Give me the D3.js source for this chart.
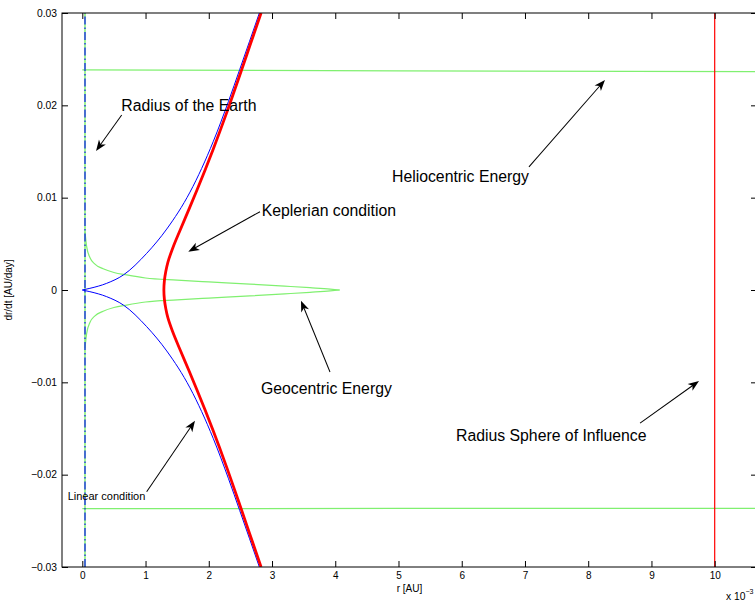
<!DOCTYPE html>
<html>
<head>
<meta charset="utf-8">
<script src="https://cdn.jsdelivr.net/npm/d3@7"></script>
<style>
  html, body { margin: 0; padding: 0; background: #fff; }
  svg { display: block; font-family: "Liberation Sans", Arial, Helvetica, sans-serif; }
</style>
</head>
<body>
<svg id="chart" width="755" height="605"></svg>
<script>
// ---------------- data (r in 1e-3 AU, dr/dt in AU/day) ----------------
const xTicks = [0, 1, 2, 3, 4, 5, 6, 7, 8, 9, 10];
const yTicks = [-0.03, -0.02, -0.01, 0, 0.01, 0.02, 0.03];
const yTickLabels = ["\u22120.03", "\u22120.02", "\u22120.01", "0", "0.01", "0.02", "0.03"];

// Linear condition (blue), symmetric branches ±
const linearR = [0, 0.12, 0.385, 0.65, 1.018, 1.335, 1.703, 2.072, 2.31, 2.49, 2.80];
const linearV = [0, 0.00018, 0.00072, 0.00163, 0.00397, 0.0066, 0.0106, 0.0161, 0.0204, 0.0239, 0.030];

// Keplerian condition (red), symmetric branches ±
const keplerV = [0, 0.001, 0.002, 0.003, 0.0045, 0.0065, 0.0087, 0.0108, 0.013, 0.0152, 0.0191, 0.0228, 0.0265, 0.030];
const keplerR = [1.29, 1.298, 1.320, 1.353, 1.428, 1.548, 1.684, 1.812, 1.942, 2.067, 2.278, 2.467, 2.652, 2.827];

// Geocentric energy (green), symmetric branches ±
const geoR = [0.0426, 0.069, 0.122, 0.20, 0.33, 0.50, 0.70, 1.0, 1.5, 2.0, 2.65, 3.2, 3.6, 3.92, 4.07];
const geoV = [0.0063, 0.0047, 0.0035, 0.0028, 0.0023, 0.0019, 0.00163, 0.0013, 0.00107, 0.00088, 0.00064, 0.00042, 0.00025, 0.0001, 0];

// Heliocentric energy (green), upper and lower
const helioR = [0, 5, 10.7];
const helioUpperV = [0.02383, 0.02374, 0.02365];
const helioLowerV = [-0.02368, -0.02366, -0.02364];

// Radius of the Earth and radius of sphere of influence
const earthRadius = 0.0426;
const soiRadius = 10;

// annotations (data coordinates)
const annotLabels = ["Radius of the Earth", "Keplerian condition", "Heliocentric Energy", "Geocentric Energy", "Radius Sphere of Influence", "Linear condition"];
const annotTextR = [0.617, 2.837, 4.897, 2.826, 5.909, -0.231];
const annotTextV = [0.01939, 0.00802, 0.01174, -0.01126, -0.01631, -0.02274];
const annotSize = [15.8, 15.8, 15.8, 15.8, 15.8, 11];
const arrowTailR = [0.623, 2.81, 7.063, 3.917, 8.82, 1.018];
const arrowTailV = [0.01896, 0.00848, 0.01333, -0.00888, -0.01441, -0.02185];
const arrowHeadR = [0.217, 1.676, 8.265, 3.458, 9.752, 1.782];
const arrowHeadV = [0.01506, 0.00415, 0.02275, -0.00116, -0.00986, -0.01416];

// ---------------- layout ----------------
const L = 62, R = 757, T = 13, B = 567;
const svg = d3.select("#chart");

const x = d3.scaleLinear().domain([-0.321, 10.669]).range([L, R]);
const y = d3.scaleLinear().domain([-0.03, 0.03]).range([B, T]);

const defs = svg.append("defs");
defs.append("clipPath").attr("id", "clip")
  .append("rect").attr("x", L).attr("y", T).attr("width", R - L).attr("height", B - T);

const plot = svg.append("g").attr("clip-path", "url(#clip)");
const GREEN = "#80f070";

const lineX = d3.line().x(d => x(d[0])).y(d => y(d[1])).curve(d3.curveMonotoneX);
const lineY = d3.line().x(d => x(d[0])).y(d => y(d[1])).curve(d3.curveMonotoneY);
const straight = d3.line().x(d => x(d[0])).y(d => y(d[1]));

// Heliocentric energy
plot.append("path").attr("d", lineX(helioR.map((r, i) => [r, helioUpperV[i]])))
  .attr("fill", "none").attr("stroke", GREEN).attr("stroke-width", 1.2);
plot.append("path").attr("d", lineX(helioR.map((r, i) => [r, helioLowerV[i]])))
  .attr("fill", "none").attr("stroke", GREEN).attr("stroke-width", 1.2);

// Geocentric energy (two branches)
[1, -1].forEach(s => {
  plot.append("path").attr("d", lineX(geoR.map((r, i) => [r, s * geoV[i]])))
    .attr("fill", "none").attr("stroke", GREEN).attr("stroke-width", 1.2);
});

// Radius of Earth green line
plot.append("path").attr("d", straight([[earthRadius, -0.03], [earthRadius, 0.03]]))
  .attr("fill", "none").attr("stroke", GREEN).attr("stroke-width", 1.5);

// Linear condition (blue)
[1, -1].forEach(s => {
  plot.append("path").attr("d", lineX(linearR.map((r, i) => [r, s * linearV[i]])))
    .attr("fill", "none").attr("stroke", "#0000ff").attr("stroke-width", 1);
});

// Blue dash-dot vertical
plot.append("path").attr("d", straight([[earthRadius, -0.03], [earthRadius, 0.03]]))
  .attr("fill", "none").attr("stroke", "#0000ff").attr("stroke-width", 1.1)
  .attr("stroke-dasharray", "8,3,1.5,3");

// Keplerian condition (red), ordered by v
const kepPts = keplerR.map((r, i) => [r, -keplerV[i]]).reverse()
  .concat(keplerR.slice(1).map((r, i) => [r, keplerV[i + 1]]));
plot.append("path").attr("d", lineY(kepPts))
  .attr("fill", "none").attr("stroke", "#ff0000").attr("stroke-width", 2.8);

// Sphere of influence
plot.append("path").attr("d", straight([[soiRadius, -0.03], [soiRadius, 0.03]]))
  .attr("fill", "none").attr("stroke", "#ff0000").attr("stroke-width", 1.2);

// ---------------- annotations ----------------
const ann = svg.append("g");
annotLabels.forEach((lab, i) => {
  ann.append("text").attr("x", x(annotTextR[i])).attr("y", y(annotTextV[i]))
    .attr("font-size", annotSize[i]).attr("fill", "#000").text(lab);
  const x0 = x(arrowTailR[i]), y0 = y(arrowTailV[i]);
  const x1 = x(arrowHeadR[i]), y1 = y(arrowHeadV[i]);
  const ang = Math.atan2(y1 - y0, x1 - x0);
  const len = Math.hypot(x1 - x0, y1 - y0);
  const g = ann.append("g").attr("transform", `translate(${x0},${y0}) rotate(${ang * 180 / Math.PI})`);
  g.append("line").attr("x1", 0).attr("y1", 0).attr("x2", len - 6).attr("y2", 0)
    .attr("stroke", "#000").attr("stroke-width", 1);
  g.append("path").attr("d", `M${len},0 L${len - 11},-4.2 L${len - 8},0 L${len - 11},4.2 Z`)
    .attr("fill", "#000");
});

// ---------------- axes ----------------
const axG = svg.append("g");
const xb = axG.append("g").attr("transform", `translate(0,${B})`)
  .call(d3.axisBottom(x).tickValues(xTicks).tickSize(-6).tickPadding(5).tickFormat(d3.format("d")));
const xt = axG.append("g").attr("transform", `translate(0,${T})`)
  .call(d3.axisTop(x).tickValues(xTicks).tickSize(-6).tickFormat(""));
const yl = axG.append("g").attr("transform", `translate(${L},0)`)
  .call(d3.axisLeft(y).tickValues(yTicks).tickSize(-6).tickPadding(5).tickFormat((d, i) => yTickLabels[i]));
const yr = axG.append("g").attr("transform", `translate(${R},0)`)
  .call(d3.axisRight(y).tickValues(yTicks).tickSize(-6).tickFormat(""));
[xb, xt, yl, yr].forEach(a => {
  a.selectAll(".domain").remove();
  a.selectAll("line").attr("stroke", "#000");
  a.selectAll("text").attr("fill", "#000").attr("font-size", 10.3)
    .attr("font-family", "Liberation Sans, Arial, sans-serif");
});
xb.selectAll("text").attr("font-size", 10);
axG.append("rect").attr("x", L).attr("y", T).attr("width", R - L).attr("height", B - T)
  .attr("fill", "none").attr("stroke", "#000").attr("stroke-width", 1);

// axis labels
svg.append("text").attr("x", (L + R) / 2).attr("y", 592).attr("text-anchor", "middle")
  .attr("font-size", 10).text("r [AU]");
svg.append("text").attr("transform", `translate(12,${(T + B) / 2}) rotate(-90)`)
  .attr("text-anchor", "middle").attr("font-size", 10).text("dr/dt [AU/day]");
const mult = svg.append("text").attr("x", 726).attr("y", 600).attr("font-size", 10.3);
mult.append("tspan").text("x 10");
mult.append("tspan").attr("dy", -6).attr("font-size", 7).text("\u22123");
</script>
</body>
</html>
